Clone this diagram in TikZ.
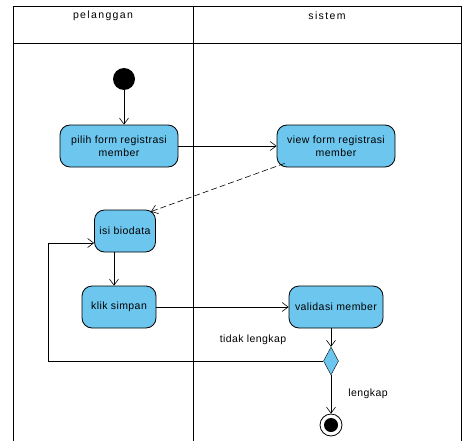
\documentclass[tikz,border=0pt]{standalone}
\usepackage{fontspec}
\setmainfont{Liberation Sans}[LetterSpace=4]
\newfontfamily\lanefont{Liberation Sans}[LetterSpace=13]
\usetikzlibrary{arrows.meta,shapes.geometric}

\definecolor{actfill}{RGB}{108,198,238}

\tikzset{
  act/.style={draw, thick, fill=actfill, rounded corners=10pt, align=center,
    inner sep=1pt, minimum height=42pt, font=\fontsize{10.5}{12.5}\selectfont},
  flow/.style={semithick, -{Straight Barb[length=6pt,width=9pt]}},
  lane/.style={font=\lanefont\fontsize{10.5}{12}\selectfont},
  guard/.style={font=\fontsize{10.5}{12}\selectfont}
}

\begin{document}
\begin{tikzpicture}[x=1pt,y=-1pt]
  \useasboundingbox (0,0) rectangle (462,441);
  % swimlanes
  \draw[thick] (13,441) -- (13,6) -- (461,6) -- (461,441)
        (13,43) -- (461,43)
        (193,6) -- (193,441);
  \node[lane] (pelanggan) at (103,16) {pelanggan};
  \node[lane] (sistem) at (327,16) {sistem};

  % activities
  \node[circle, fill=black, minimum size=22pt, inner sep=0pt] (start) at (124,79) {};
  \node[act, minimum width=118pt] (pilih) at (119,146) {pilih form registrasi\\member};
  \node[act, minimum width=118pt] (view) at (336,146) {view form registrasi\\member};
  \node[act, minimum width=61pt] (isi) at (125,231) {isi biodata};
  \node[act, minimum width=74pt] (klik) at (119,307) {klik simpan};
  \node[act, minimum width=94pt] (validasi) at (336,307) {validasi member};
  \node[diamond, draw, fill=actfill, minimum width=15pt, minimum height=28pt,
        inner sep=0pt] (cek) at (331,361) {};
  \node[circle, draw, thick, minimum size=22pt, inner sep=0pt] (end) at (331,425) {};
  \node[circle, fill=black, minimum size=14pt, inner sep=0pt] at (end) {};
  \coordinate (turn) at (48,361);

  % flows
  \draw[flow] (start) -- (start |- pilih.north);
  \draw[flow] (pilih) -- (view);
  \draw[flow, dash pattern=on 6pt off 3pt] ([shift={(8pt,4pt)}]view.south west)
        -- ([shift={(-5pt,-2pt)}]isi.north east);
  \draw[flow] ([xshift=-5pt]klik.north |- isi.south) -- ([xshift=-5pt]klik.north);
  \draw[flow] (klik) -- (validasi);
  \draw[flow] (cek.north |- validasi.south) -- (cek.north);
  \draw[flow] (cek.west) -- (turn) |- ([yshift=-12pt]isi.west);
  \draw[flow] (cek.south) -- (end.north);

  \node[guard] (tidak) at (253,340) {tidak lengkap};
  \node[guard] (lengkap) at (368,394) {lengkap};
\end{tikzpicture}
\end{document}
